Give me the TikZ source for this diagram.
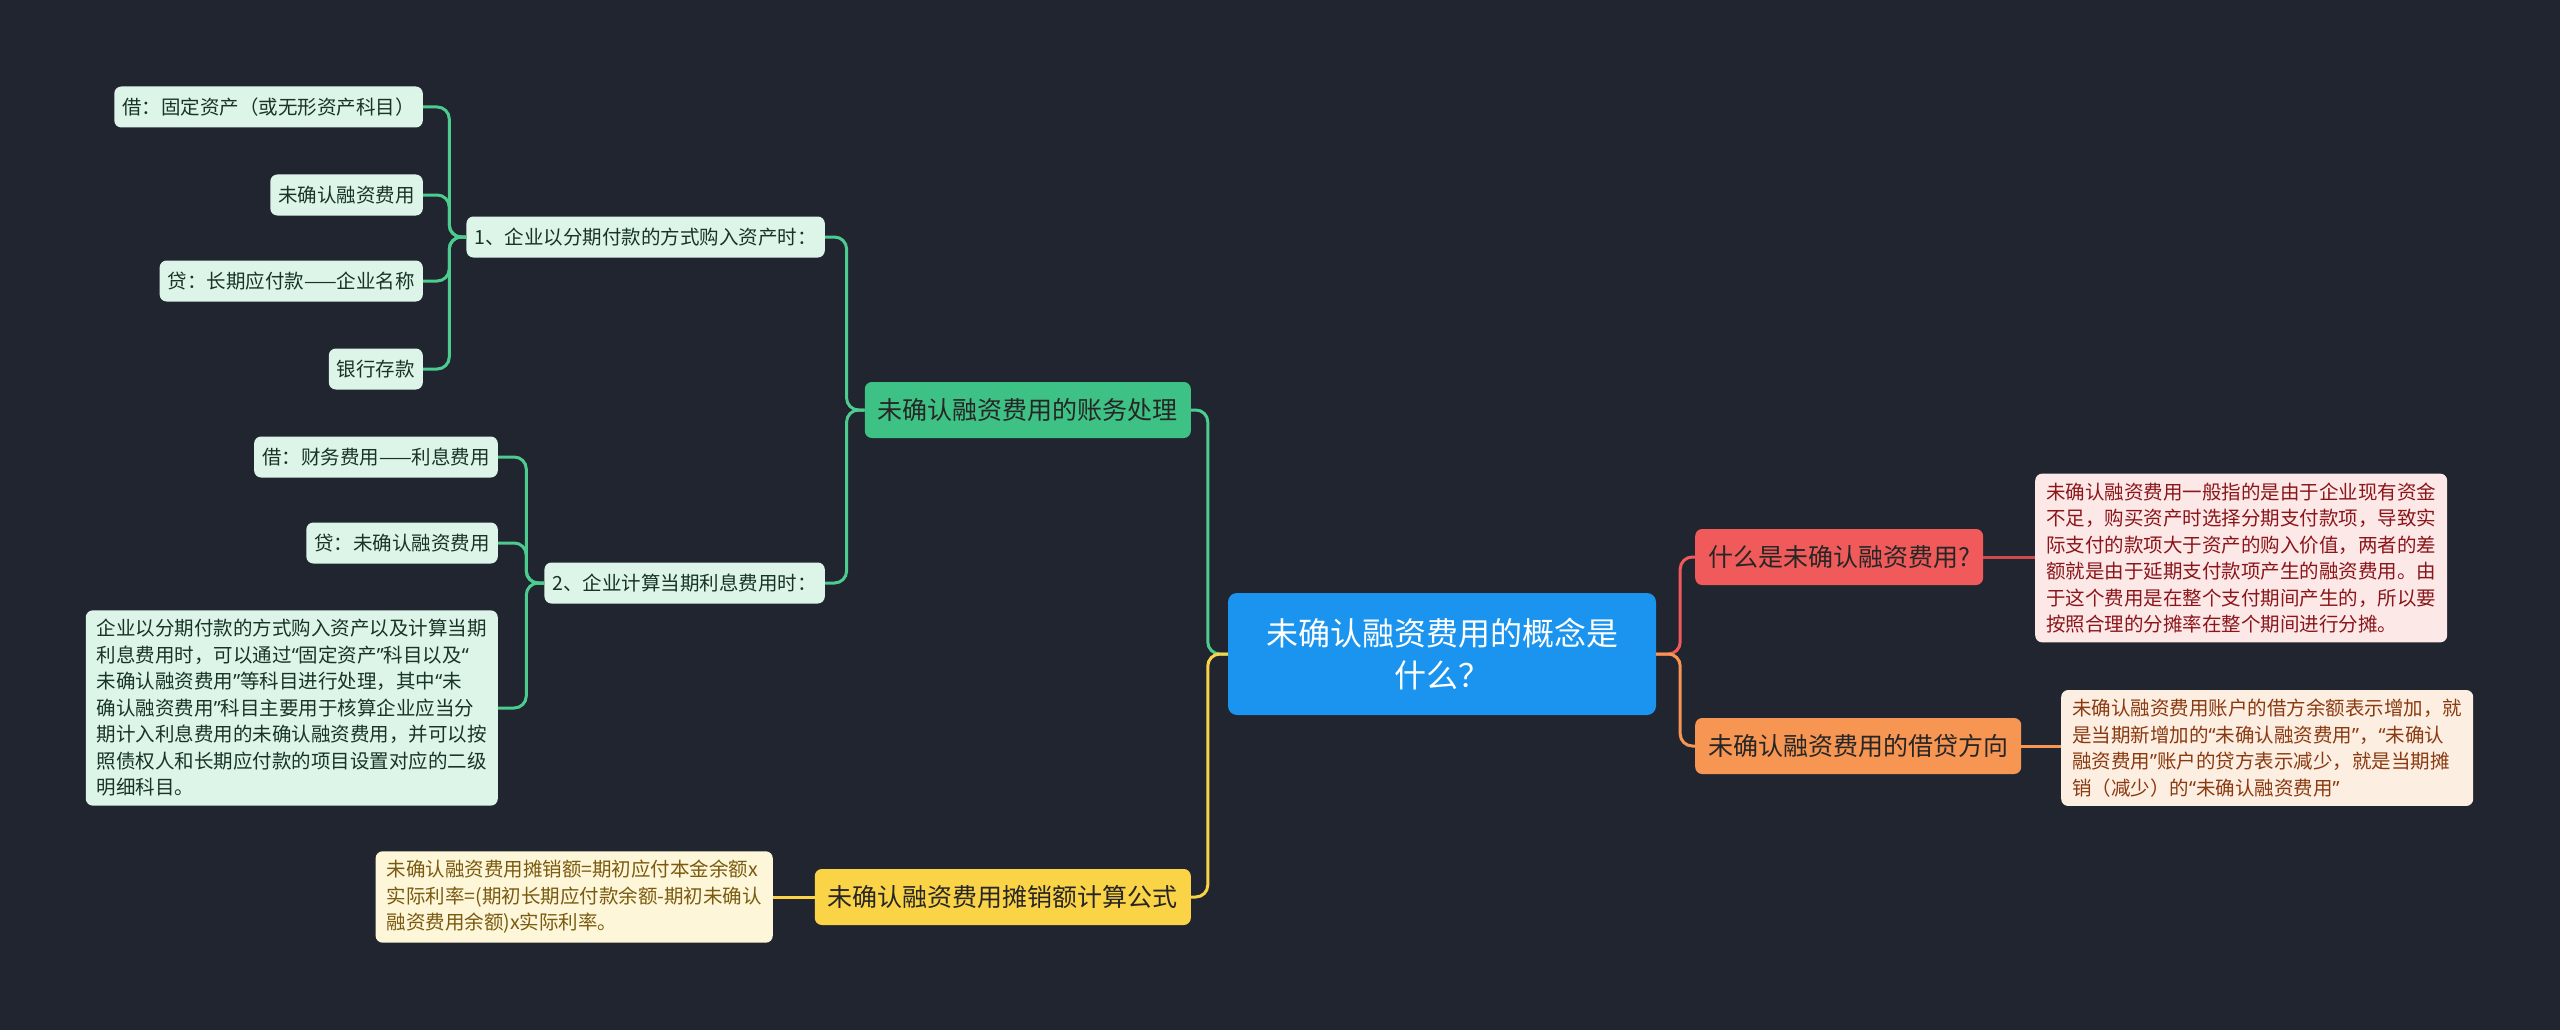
\documentclass[tikz,border=0pt]{standalone}
\usepackage{fontspec}
\setmainfont{Noto Sans CJK SC}
\newfontfamily\quotefont{Noto Sans}
\newcommand\quoL{{\quotefont “}}
\newcommand\quoR{{\quotefont ”}}

\definecolor{bgdark}{RGB}{33,37,48}
\definecolor{rootblue}{RGB}{26,148,238}
\definecolor{accgreen}{RGB}{62,193,133}
\definecolor{leafgreen}{RGB}{220,245,232}
\definecolor{linegreen}{RGB}{76,205,143}
\definecolor{textgreen}{RGB}{24,52,38}
\definecolor{whatred}{RGB}{240,90,90}
\definecolor{notepink}{RGB}{253,232,232}
\definecolor{textred}{RGB}{139,22,26}
\definecolor{dirorange}{RGB}{247,149,82}
\definecolor{notepeach}{RGB}{253,238,226}
\definecolor{textbrown}{RGB}{138,58,16}
\definecolor{fmyellow}{RGB}{251,211,70}
\definecolor{noteyellow}{RGB}{253,246,216}
\definecolor{textolive}{RGB}{122,90,16}

\begin{document}
\begin{tikzpicture}[x=1pt, y=-1pt,
    box/.style={rounded corners=7, inner ysep=0pt, text=black!85},
    leaf/.style={box, fill=leafgreen, text=textgreen, inner xsep=8, minimum height=41,
        font={\fontsize{19.5}{26.5}\selectfont}},
    note/.style={box, align=left, inner xsep=11, inner ysep=9,
        font={\fontsize{19.5}{26.5}\selectfont}},
    topic/.style={box, inner xsep=13, minimum height=56, font={\fontsize{25}{30}\selectfont}},
    link/.style={line width=3, rounded corners=12}]

        % Background
        \fill[bgdark] (0,0) rectangle (2560,1030);
        \useasboundingbox (0,0) rectangle (2560,1030);

        % Draw root
        \node[box, fill=rootblue, text=white, rounded corners=9, minimum width=428, minimum height=122,
            align=center, font={\fontsize{32}{42}\selectfont}] (root) at (1442,654)
            {未确认融资费用的概念是\\什么？};

        % Draw right branches
        \node[topic, fill=whatred, anchor=west] (what) at (1695,557) {什么是未确认融资费用?};
        \node[topic, fill=dirorange, anchor=west] (dir) at (1695,746) {未确认融资费用的借贷方向};
        \node[note, fill=notepink, text=textred, anchor=west] (defn) at (2035,558)
            {未确认融资费用一般指的是由于企业现有资金\\
             不足，购买资产时选择分期支付款项，导致实\\
             际支付的款项大于资产的购入价值，两者的差\\
             额就是由于延期支付款项产生的融资费用。由\\
             于这个费用是在整个支付期间产生的，所以要\\
             按照合理的分摊率在整个期间进行分摊。};
        \node[note, fill=notepeach, text=textbrown, anchor=west] (debit) at (2061,748)
            {未确认融资费用账户的借方余额表示增加，就\\
             是当期新增加的\quoL 未确认融资费用\quoR ，\quoL 未确认\\
             融资费用\quoR 账户的贷方表示减少，就是当期摊\\
             销（减少）的\quoL 未确认融资费用\quoR};

        % Draw left branches
        \node[topic, fill=accgreen, anchor=east] (acct) at (1191,410) {未确认融资费用的账务处理};
        \node[topic, fill=fmyellow, anchor=east] (formula) at (1191,897) {未确认融资费用摊销额计算公式};
        \node[note, fill=noteyellow, text=textolive, anchor=east] (fnote) at (773,897)
            {未确认融资费用摊销额=期初应付本金余额x\\
             实际利率=(期初长期应付款余额-期初未确认\\
             融资费用余额)x实际利率。};

        \node[leaf, anchor=east] (buy) at (825,237) {1、企业以分期付款的方式购入资产时：};
        \node[leaf, anchor=east] (interest) at (825,583) {2、企业计算当期利息费用时：};

        % Draw leaves of 1
        \node[leaf, anchor=east] (fixed) at (423,107) {借：固定资产（或无形资产科目）};
        \node[leaf, anchor=east] (unrec) at (423,195) {未确认融资费用};
        \node[leaf, anchor=east] (payable) at (423,281) {贷：长期应付款——企业名称};
        \node[leaf, anchor=east] (bank) at (423,369) {银行存款};

        % Draw leaves of 2
        \node[leaf, anchor=east] (finexp) at (498,457) {借：财务费用——利息费用};
        \node[leaf, anchor=east] (credit) at (498,543) {贷：未确认融资费用};
        \node[note, fill=leafgreen, text=textgreen, anchor=east] (detail) at (498,708)
            {企业以分期付款的方式购入资产以及计算当期\\
             利息费用时，可以通过\quoL 固定资产\quoR 科目以及\quoL\\
             未确认融资费用\quoR 等科目进行处理，其中\quoL 未\\
             确认融资费用\quoR 科目主要用于核算企业应当分\\
             期计入利息费用的未确认融资费用，并可以按\\
             照债权人和长期应付款的项目设置对应的二级\\
             明细科目。};

        % Draw connectors
        \draw[link, linegreen] (root.west) -- ++(-20,0) |- (acct.east);
        \draw[link, fmyellow] (root.west) -- ++(-20,0) |- (formula.east);
        \draw[link, whatred] (root.east) -- ++(24,0) |- (what.west);
        \draw[link, dirorange] (root.east) -- ++(24,0) |- (dir.west);
        \draw[line width=3, whatred!85!black] (what.east) -- (defn.west |- what.east);
        \draw[line width=3, dirorange] (dir.east) -- (debit.west |- dir.east);
        \draw[line width=3, fmyellow] (formula.west) -- (fnote.east |- formula.west);

        \foreach \k in {buy,interest}
            \draw[link, linegreen] (acct.west) -- ++(-18,0) |- (\k.east);
        \foreach \k in {fixed,unrec,payable,bank}
            \draw[link, linegreen] (buy.west) -- ++(-17,0) |- (\k.east);
        \foreach \k in {finexp,credit,detail}
            \draw[link, linegreen] (interest.west) -- ++(-18,0) |- (\k.east);
    \end{tikzpicture}
\end{document}
